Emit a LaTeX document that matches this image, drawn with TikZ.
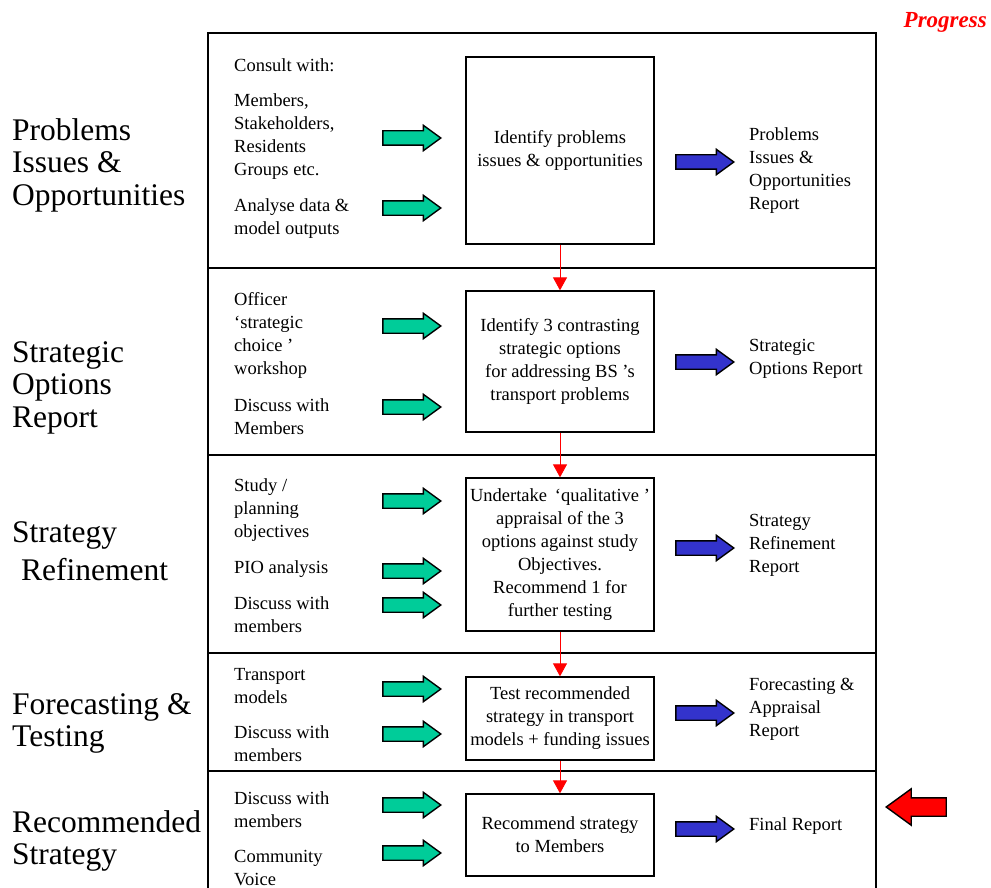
\documentclass[tikz,border=0pt]{standalone}
\usepackage{fontspec}
\setmainfont{Liberation Serif}
\usepackage{xcolor}
\usetikzlibrary{shapes.arrows,arrows.meta}
\definecolor{inGreen}{RGB}{0,204,153}
\definecolor{outBlue}{RGB}{51,51,204}

\begin{document}
\begin{tikzpicture}[x=1pt,y=-1pt,
	every node/.style={font=\fontsize{18.5}{23}\selectfont, inner sep=0pt},
	stage/.style={font=\fontsize{31.5}{32.5}\selectfont, anchor=west, align=left},
	note/.style={anchor=west, align=left},
	task/.style={draw, line width=1.3pt, align=center, minimum width=188pt},
	blockarrow/.style={single arrow, draw, line width=1.4pt, anchor=tip, minimum height=58pt, inner ysep=6.5pt, inner xsep=0pt, single arrow head extend=5.5pt, single arrow tip angle=72},
	inarrow/.style={blockarrow, fill=inGreen},
	outarrow/.style={blockarrow, fill=outBlue},
	link/.style={red, line width=1pt, -{Triangle[width=14pt,length=13pt]}}]
			\useasboundingbox (0,0) rectangle (991,888);
			\node[anchor=east, text=red, font=\fontsize{23}{26}\selectfont\bfseries\itshape] (progress) at (987,22) {Progress};
			\draw[line width=1.5pt] (208,888) -- (208,33) -- (876,33) -- (876,888);
			\draw[line width=2.5pt] (208,268) -- (876,268);
			\draw[line width=2.5pt] (208,455) -- (876,455);
			\draw[line width=2.5pt] (208,653) -- (876,653);
			\draw[line width=2.5pt] (208,771) -- (876,771);
			\node[stage] (stage1) at (12,165) {Problems\\Issues \&\\Opportunities};
			\node[stage] (stage2) at (12,387.5) {Strategic\\Options\\Report};
			\node[stage] (stage3) at (12,551) {Strategy\\[5.5pt]\hspace*{9pt}Refinement};
			\node[stage] (stage4) at (12,723.5) {Forecasting \&\\Testing};
			\node[stage] (stage5) at (12,841) {Recommended\\Strategy};
			\node[note] (consult) at (234,65) {Consult with:};
			\node[note] (members1) at (234,137) {Members,\\Stakeholders,\\Residents\\Groups etc.};
			\node[note] (data) at (234,218.5) {Analyse data \&\\model outputs};
			\node[note] (officer) at (234,335) {Officer\\‘strategic\\choice ’\\workshop};
			\node[note] (members2) at (234,416.5) {Discuss with\\Members};
			\node[note] (study) at (234,510) {Study /\\planning\\objectives};
			\node[note] (pio) at (234,569) {PIO analysis};
			\node[note] (members3) at (234,615) {Discuss with\\members};
			\node[note] (models) at (234,686) {Transport\\models};
			\node[note] (members4) at (234,744) {Discuss with\\members};
			\node[note] (members5) at (234,809.5) {Discuss with\\members};
			\node[note] (voice) at (234,868) {Community\\Voice};
			\node[inarrow] (g1a) at (442,138) {};
			\node[inarrow] (g1b) at (442,208) {};
			\node[inarrow] (g2a) at (442,326) {};
			\node[inarrow] (g2b) at (442,407) {};
			\node[inarrow] (g3a) at (442,501) {};
			\node[inarrow] (g3b) at (442,571) {};
			\node[inarrow] (g3c) at (442,605) {};
			\node[inarrow] (g4a) at (442,689) {};
			\node[inarrow] (g4b) at (442,734) {};
			\node[inarrow] (g5a) at (442,805) {};
			\node[inarrow] (g5b) at (442,853) {};
			\node[task, minimum height=187pt] (box1) at (560,150.5) {Identify problems\\issues \& opportunities};
			\node[task, minimum height=141pt] (box2) at (560,361.5) {Identify 3 contrasting\\strategic options\\for addressing BS ’s\\transport problems};
			\node[task, minimum height=153pt] (box3) at (560,554.5) {Undertake \,‘qualitative ’\\appraisal of the 3\\options against study\\Objectives.\\Recommend 1 for\\further testing};
			\node[task, minimum height=83pt] (box4) at (560,718.5) {Test recommended\\strategy in transport\\models + funding issues};
			\node[task, minimum height=82pt] (box5) at (560,835) {Recommend strategy\\to Members};
			\draw[link] (box1.south) -- (box2.north);
			\draw[link] (box2.south) -- (box3.north);
			\draw[link] (box3.south) -- (box4.north);
			\draw[link] (box4.south) -- (box5.north);
			\node[outarrow] (b1) at (735,162) {};
			\node[outarrow] (b2) at (735,362) {};
			\node[outarrow] (b3) at (735,548) {};
			\node[outarrow] (b4) at (735,713) {};
			\node[outarrow] (b5) at (735,829) {};
			\node[note] (report1) at (749,170.5) {Problems\\Issues \&\\Opportunities\\Report};
			\node[note] (report2) at (749,358.5) {Strategic\\Options Report};
			\node[note] (report3) at (749,545.5) {Strategy\\Refinement\\Report};
			\node[note] (report4) at (749,709) {Forecasting \&\\Appraisal\\Report};
			\node[note] (report5) at (749,826) {Final Report};
			\node[blockarrow, fill=red, shape border rotate=180, minimum height=60pt, inner ysep=8.5pt, single arrow head extend=9pt] (now) at (885,807) {};
		\end{tikzpicture}
\end{document}
